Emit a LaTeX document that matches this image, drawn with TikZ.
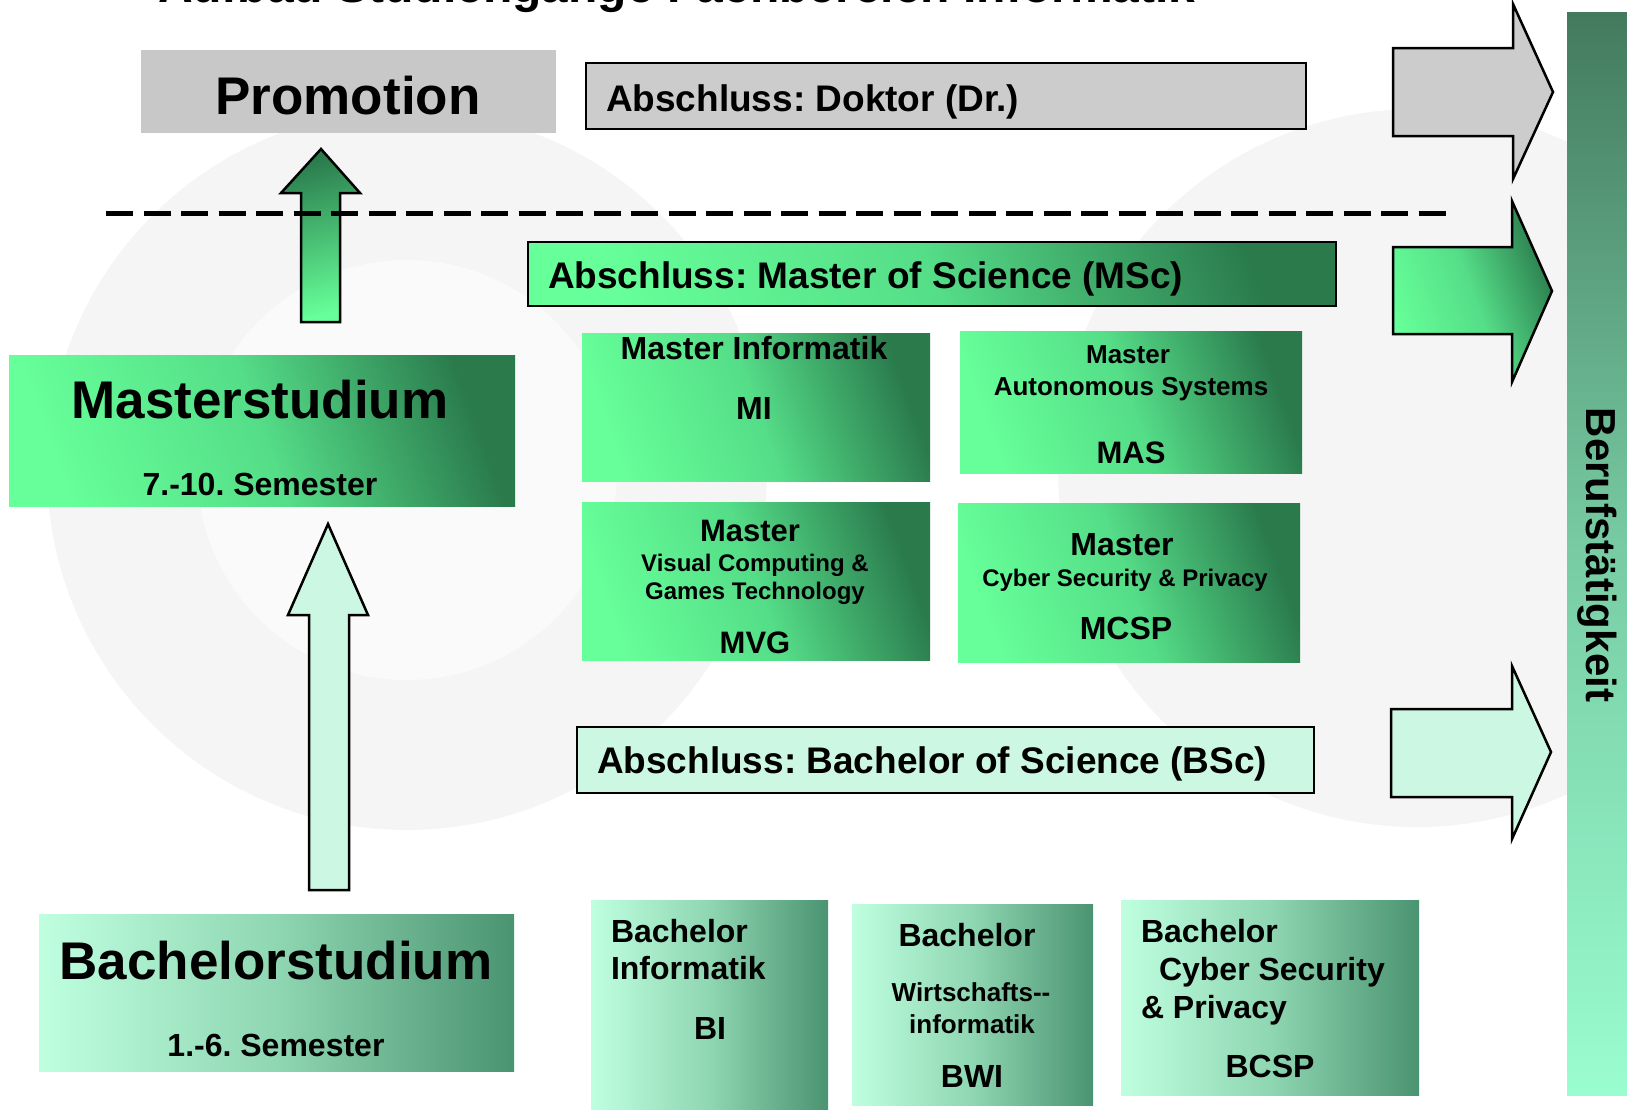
\documentclass[tikz,border=0pt]{standalone}
\usepackage{fontspec}
\setmainfont{Liberation Sans}
\definecolor{gbox}{HTML}{CCCCCC}
\definecolor{gprom}{HTML}{C8C8C8}
\definecolor{mlight}{HTML}{66FF99}
\definecolor{mmid}{HTML}{55DD88}
\definecolor{mdark}{HTML}{2A7A4C}
\definecolor{blight}{HTML}{BFFFE0}
\definecolor{bmid}{HTML}{8FD6B2}
\definecolor{bdark}{HTML}{4B9471}
\definecolor{mint}{HTML}{CCF7E2}
\definecolor{bgA}{HTML}{F5F5F5}
\definecolor{bgB}{HTML}{FAFAFA}
\definecolor{btop}{HTML}{437A5E}
\definecolor{bmidb}{HTML}{78CCA4}
\definecolor{bbot}{HTML}{9AFDD0}
\newcommand{\fsz}[1]{\fontsize{#1}{#1}\selectfont\bfseries\frenchspacing}
\begin{document}
\begin{tikzpicture}[x=1pt,y=-1pt,
  box/.style={inner sep=0, outer sep=0, anchor=north west},
  mshade/.style={left color=mlight, right color=mdark, middle color=mmid, shading angle=110},
  bshade/.style={left color=blight, right color=bdark, middle color=bmid},
  outl/.style={draw=black, line width=2.5pt},
  blk/.style={draw=black, line width=2.5pt, line join=miter},
  txt/.style={inner sep=0, outer sep=0, anchor=base},
  txtw/.style={inner sep=0, outer sep=0, anchor=base west}]
\useasboundingbox (0,0) rectangle (1627,1109);
% background circles
\fill[bgA] (407,470) circle (360);
\fill[bgB] (407,470) circle (210);
\fill[bgA] (1417,468) circle (359);
% title (cut off at top, as in the original)
\node[txtw] (title) at (158,2) {\fsz{48}Aufbau Studiengänge Fachbereich Informatik};
% top row
\node[box, fill=gprom, minimum width=415pt, minimum height=83pt] (prombox) at (141,50) {};
\node[box, fill=gbox, outl, minimum width=720pt, minimum height=66pt] (drbox) at (586,63) {};
% master row
\node[box, mshade, outl, minimum width=808pt, minimum height=64pt] (mscbox) at (528,242) {};
\node[box, mshade, minimum width=506pt, minimum height=151pt] (msbox) at (9,355) {};
\node[box, mshade, minimum width=348pt, minimum height=148pt] (mibox) at (582,333) {};
\node[box, mshade, minimum width=342pt, minimum height=142pt] (masbox) at (960,331) {};
\node[box, mshade, minimum width=348pt, minimum height=158pt] (mvgbox) at (582,502) {};
\node[box, mshade, minimum width=342pt, minimum height=159pt] (mcspbox) at (958,503) {};
% bachelor row
\node[box, fill=mint, outl, minimum width=737pt, minimum height=66pt] (bscbox) at (577,727) {};
\node[box, bshade, minimum width=475pt, minimum height=157pt] (bsbox) at (39,914) {};
\node[box, bshade, minimum width=237pt, minimum height=209pt] (bibox) at (591,900) {};
\node[box, bshade, minimum width=241pt, minimum height=201pt] (bwibox) at (852,904) {};
\node[box, bshade, minimum width=298pt, minimum height=195pt] (bcspbox) at (1121,900) {};
% right bar
\node[box, top color=btop, bottom color=bbot, middle color=bmidb, minimum width=61pt, minimum height=1083pt] (bar) at (1567,12) {};
% right arrows
\path[blk, fill=gbox] (1393,48) -- (1513,48) -- (1513,4) -- (1553,92) -- (1513,179) -- (1513,136) -- (1393,136) -- cycle;
\path[blk, mshade] (1393,247) -- (1512,247) -- (1512,201) -- (1552,291) -- (1512,382) -- (1512,334) -- (1393,334) -- cycle;
\path[blk, fill=mint] (1391,709) -- (1512,709) -- (1512,666) -- (1551,752) -- (1512,839) -- (1512,797) -- (1391,797) -- cycle;
% up arrows
\path[blk, top color=mdark, bottom color=mlight, shading angle=15] (301,322) -- (301,193) -- (281,193) -- (321,149) -- (360,193) -- (340,193) -- (340,322) -- cycle;
\path[blk, fill=mint] (309,890) -- (309,615) -- (288,615) -- (328,524) -- (368,615) -- (349,615) -- (349,890) -- cycle;
% dashed separator
\coordinate (dl) at (106,213);
\coordinate (dr) at (1447,213);
\draw[line width=5pt, dash pattern=on 27pt off 10.5pt] (dl) -- (dr);
% texts
\node[txt] (tprom) at (348,114) {\fsz{53}Promotion};
\node[txtw] (tdr) at (606,111) {\fsz{37}Abschluss: Doktor (Dr.)};
\node[txtw] (tmsc) at (548,288) {\fsz{37}Abschluss: Master of Science (MSc)};
\node[txtw] (tbsc) at (597,773) {\fsz{37}Abschluss: Bachelor of Science (BSc)};
\node[txt] (tms1) at (260,418) {\fsz{53}Masterstudium};
\node[txt] (tms2) at (260,495) {\fsz{32}7.-10. Semester};
\node[txt] (tbs1) at (276,979) {\fsz{53}Bachelorstudium};
\node[txt] (tbs2) at (276,1056) {\fsz{32}1.-6. Semester};
\node[txt] (tmi1) at (754,359) {\fsz{32}Master Informatik};
\node[txt] (tmi2) at (754,419) {\fsz{32}MI};
\node[txt] (tmas1) at (1128,363) {\fsz{26}Master};
\node[txt] (tmas2) at (1131,395) {\fsz{26}Autonomous Systems};
\node[txt] (tmas3) at (1131,463) {\fsz{31}MAS};
\node[txt] (tmvg1) at (750,541) {\fsz{31}Master};
\node[txt] (tmvg2) at (755,571) {\fsz{24}Visual Computing \&};
\node[txt] (tmvg3) at (755,599) {\fsz{24}Games Technology};
\node[txt] (tmvg4) at (755,653) {\fsz{31}MVG};
\node[txt] (tmc1) at (1122,555) {\fsz{32}Master};
\node[txt] (tmc2) at (1125,586) {\fsz{24}Cyber Security \& Privacy};
\node[txt] (tmc3) at (1126,639) {\fsz{32}MCSP};
\node[txtw] (tbi1) at (611,942) {\fsz{32}Bachelor};
\node[txtw] (tbi2) at (611,979) {\fsz{32}Informatik};
\node[txt] (tbi3) at (710,1039) {\fsz{32}BI};
\node[txt] (tbw1) at (967,946) {\fsz{32}Bachelor};
\node[txt] (tbw2) at (971,1001) {\fsz{26}Wirtschafts-{}-};
\node[txt] (tbw3) at (972,1033) {\fsz{26}informatik};
\node[txt] (tbw4) at (972,1087) {\fsz{32}BWI};
\node[txtw] (tbc1) at (1141,942) {\fsz{32}Bachelor};
\node[txtw] (tbc2) at (1159,980) {\fsz{32}Cyber Security};
\node[txtw] (tbc3) at (1141,1018) {\fsz{32}\& Privacy};
\node[txt] (tbc4) at (1270,1077) {\fsz{32}BCSP};
\node[txt, rotate=-90] (tberuf) at (1586,555) {\fsz{42}Berufstätigkeit};
\end{tikzpicture}
\end{document}
